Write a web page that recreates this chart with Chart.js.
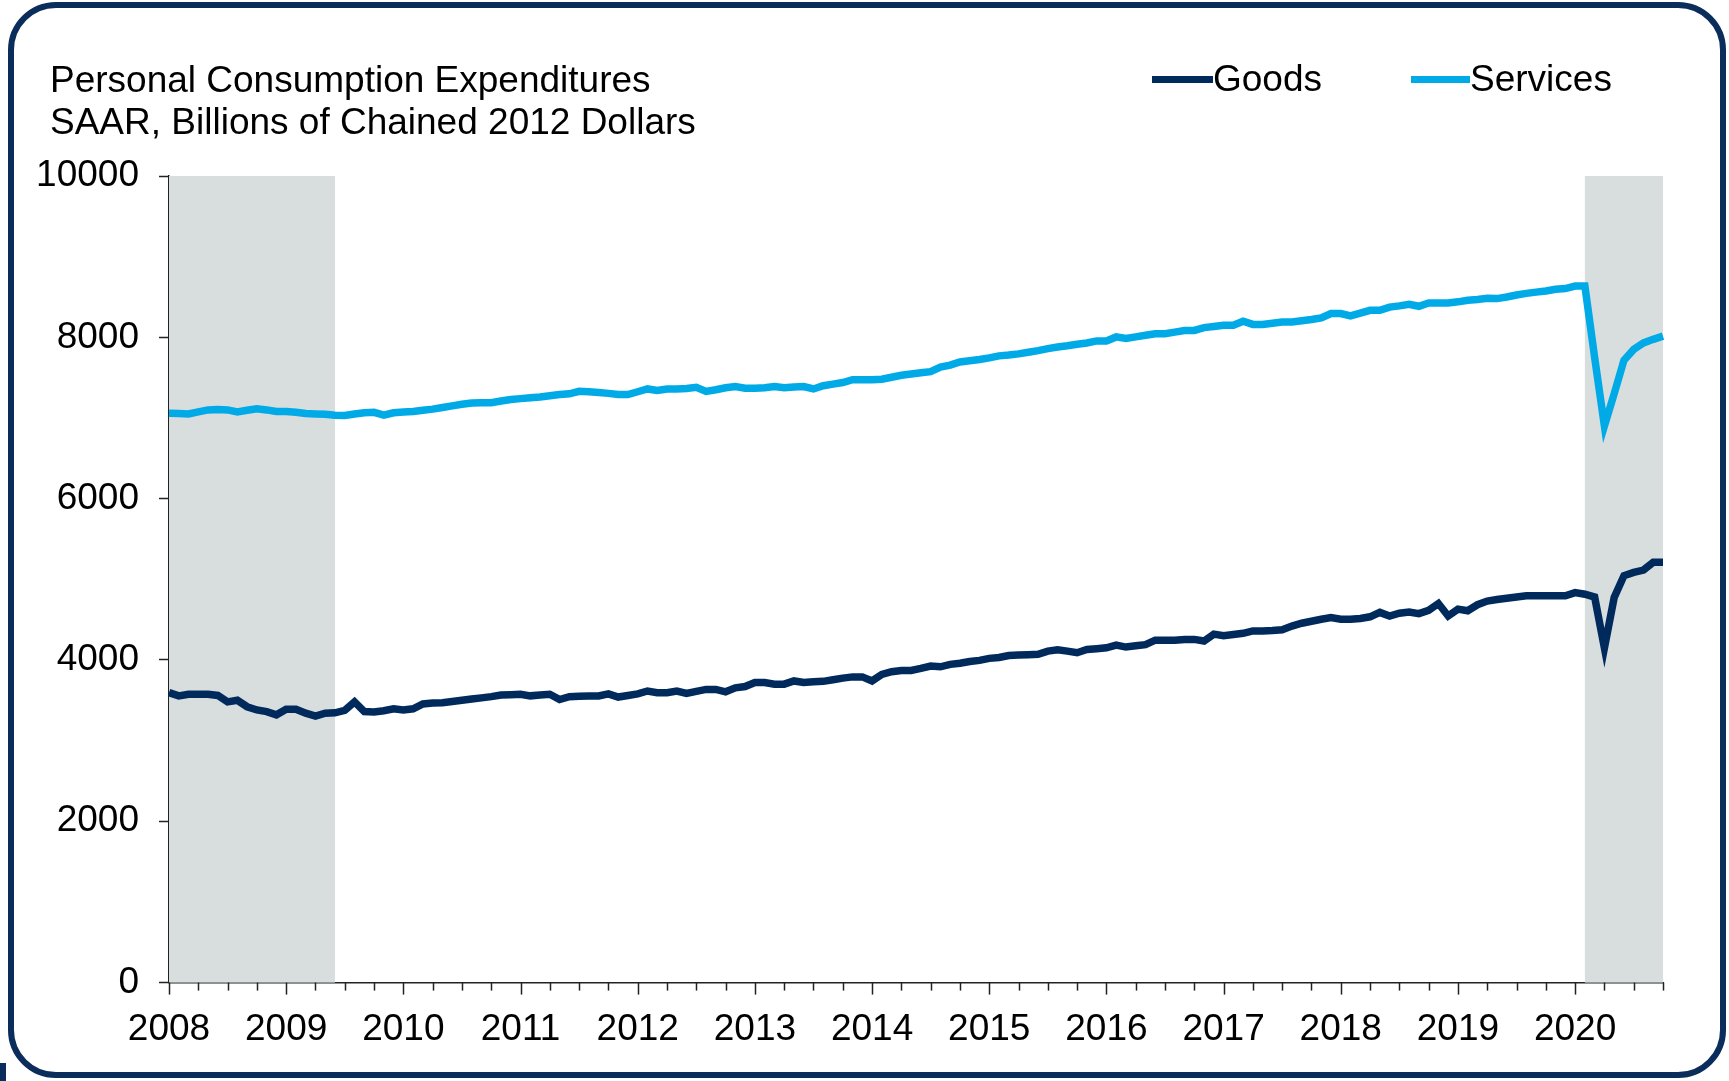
<!DOCTYPE html>
<html>
<head>
<meta charset="utf-8">
<title>Personal Consumption Expenditures</title>
<script src="https://cdn.jsdelivr.net/npm/chart.js@4.4.0/dist/chart.umd.min.js"></script>
<style>
  html, body { margin: 0; padding: 0; background: #fff; }
  body { width: 1729px; height: 1081px; position: relative; overflow: hidden; font-family: "Liberation Sans", Arial, sans-serif; color: #000; }
  #frame { position: absolute; left: 8px; top: 2px; width: 1706px; height: 1064px; border: 6px solid #0b2d5c; border-radius: 48px; }
  #corner { position: absolute; left: 0; top: 1063px; width: 6px; height: 18px; background: #0b2d5c; }
  #chart { position: absolute; left: 0; top: 0; }
  .title { position: absolute; left: 50px; top: 59px; font-size: 37px; line-height: 42px; white-space: nowrap; }
  .key-line { position: absolute; height: 7px; }
  .key-text { position: absolute; font-size: 37px; line-height: 42px; white-space: nowrap; }
</style>
</head>
<body>
<div id="frame"></div>
<div id="corner"></div>
<canvas id="chart" width="1729" height="1081"></canvas>
<div class="title">Personal Consumption Expenditures<br>SAAR, Billions of Chained 2012 Dollars</div>
<div class="key-line" style="left:1152px; top:76px; width:61px; background:#002a5c;"></div>
<div class="key-text" style="left:1213px; top:58px;">Goods</div>
<div class="key-line" style="left:1411px; top:76px; width:59px; background:#00aae7;"></div>
<div class="key-text" style="left:1470px; top:58px;">Services</div>
<script>
// monthly, Jan 2008 - Oct 2020
var months = [];
for (var yr = 2008; yr <= 2020; yr++) {
    for (var mo = 1; mo <= 12; mo++) {
        if (yr === 2020 && mo > 10) break;
        months.push(yr + '-' + (mo < 10 ? '0' + mo : mo));
    }
}

var goods = [
    3595, 3555, 3575, 3575, 3575, 3560, 3480, 3500, 3420, 3380, 3360, 3320,
    3390, 3390, 3340, 3305, 3340, 3345, 3375, 3480, 3360, 3355, 3370, 3395,
    3380, 3395, 3455, 3465, 3470, 3485, 3500, 3515, 3530, 3545, 3565, 3570,
    3575, 3555, 3565, 3575, 3510, 3545, 3550, 3553, 3553, 3580, 3540, 3560,
    3580, 3615, 3595, 3595, 3615, 3585, 3610, 3635, 3635, 3605, 3655, 3670,
    3720, 3720, 3700, 3700, 3740, 3720, 3730, 3735, 3755, 3775, 3790, 3790,
    3740, 3820, 3855, 3870, 3870, 3895, 3925, 3915, 3945, 3960, 3980, 3995,
    4020, 4030, 4055, 4060, 4065, 4070, 4110, 4125, 4110, 4090, 4130, 4140,
    4150, 4185, 4160, 4175, 4190, 4245, 4245, 4245, 4255, 4255, 4235, 4320,
    4300, 4315, 4330, 4360, 4360, 4365, 4375, 4420, 4455, 4480, 4505, 4525,
    4505, 4505, 4515, 4535, 4590, 4545, 4580, 4595, 4575, 4615, 4700, 4545,
    4630, 4610, 4685, 4730, 4750, 4765, 4780, 4795, 4795, 4795, 4795, 4795,
    4835, 4815, 4780, 4150, 4775, 5045, 5085, 5115, 5210, 5210
];

var services = [
    7060, 7055, 7050, 7075, 7100, 7105, 7100, 7075, 7095, 7115, 7100, 7080,
    7080, 7070, 7055, 7050, 7045, 7035, 7030, 7050, 7065, 7070, 7035, 7065,
    7075, 7080, 7095, 7110, 7130, 7150, 7170, 7185, 7190, 7190, 7210, 7230,
    7240, 7250, 7260, 7275, 7290, 7300, 7330, 7325, 7315, 7305, 7290, 7290,
    7325, 7360, 7340, 7360, 7360, 7365, 7380, 7330, 7350, 7375, 7390, 7370,
    7370, 7375, 7390, 7375, 7385, 7390, 7360, 7400, 7420, 7440, 7475, 7475,
    7475, 7480, 7505, 7530, 7545, 7560, 7575, 7630, 7655, 7695, 7710, 7725,
    7745, 7770, 7780, 7795, 7815, 7835, 7860, 7880, 7895, 7915, 7930, 7955,
    7955, 8005, 7985, 8005, 8025, 8045, 8045, 8065, 8085, 8085, 8120, 8135,
    8150, 8150, 8200, 8160, 8160, 8175, 8190, 8190, 8205, 8220, 8240, 8295,
    8295, 8265, 8300, 8335, 8335, 8375, 8390, 8410, 8385, 8425, 8425, 8425,
    8440, 8460, 8470, 8485, 8480, 8500, 8525, 8545, 8560, 8575, 8595, 8605,
    8635, 8635, 7750, 6900, 7300, 7715, 7850, 7930, 7975, 8015
];

// recessions, as month indexes into months
var recessionStart = [0, 145];
var recessionEnd = [17, 153];

var yTicks = [0, 2000, 4000, 6000, 8000, 10000];

var axisColor = '#222222';
var labelFont = { family: '"Liberation Sans", Arial, sans-serif', size: 37 };

var recessionShade = {
    id: 'recessionShade',
    beforeDatasetsDraw: function (chart) {
        var ctx = chart.ctx, x = chart.scales.x, area = chart.chartArea;
        ctx.save();
        ctx.fillStyle = '#d8dede';
        for (var i = 0; i < recessionStart.length; i++) {
            var x0 = x.getPixelForValue(recessionStart[i]);
            var x1 = x.getPixelForValue(recessionEnd[i]);
            ctx.fillRect(x0, area.top, x1 - x0, area.bottom - area.top);
        }
        ctx.restore();
    }
};

// quarterly tick marks, longer ones at each January
var quarterTicks = {
    id: 'quarterTicks',
    afterDraw: function (chart) {
        var ctx = chart.ctx, x = chart.scales.x, y0 = chart.chartArea.bottom;
        ctx.save();
        ctx.strokeStyle = axisColor;
        ctx.lineWidth = 1.5;
        months.forEach(function (m, i) {
            if (i % 3) return;
            var px = Math.round(x.getPixelForValue(i)) + 0.5;
            ctx.beginPath();
            ctx.moveTo(px, y0);
            ctx.lineTo(px, y0 + (i % 12 === 0 ? 12 : 8));
            ctx.stroke();
        });
        ctx.restore();
    }
};

new Chart(document.getElementById('chart'), {
    type: 'line',
    data: {
        labels: months,
        datasets: [{
            label: 'Goods',
            data: goods,
            borderColor: '#002a5c',
            borderWidth: 7.5,
            pointRadius: 0,
            tension: 0
        }, {
            label: 'Services',
            data: services,
            borderColor: '#00aae7',
            borderWidth: 7.5,
            pointRadius: 0,
            tension: 0
        }]
    },
    options: {
        responsive: false,
        animation: false,
        layout: { padding: { left: 33, right: 66, top: 176, bottom: 4 } },
        plugins: {
            legend: { display: false },
            title: { display: false },
            tooltip: { enabled: false }
        },
        scales: {
            x: {
                grid: { display: false, drawTicks: false },
                border: { display: true, color: axisColor, width: 1.5 },
                ticks: {
                    autoSkip: false,
                    maxRotation: 0,
                    padding: 25,
                    color: '#000',
                    font: labelFont,
                    callback: function (v, i) {
                        return months[i].slice(5) === '01' ? months[i].slice(0, 4) : '';
                    }
                }
            },
            y: {
                min: 0,
                max: 10000,
                afterBuildTicks: function (scale) {
                    scale.ticks = yTicks.map(function (v) { return { value: v }; });
                },
                afterFit: function (scale) { scale.width = 136; },
                grid: { drawOnChartArea: false, tickLength: 10, color: axisColor, tickWidth: 1.5 },
                border: { color: axisColor, width: 1.5 },
                ticks: {
                    padding: 20,
                    color: '#000',
                    font: labelFont,
                    callback: function (v) { return String(v); }
                }
            }
        }
    },
    plugins: [recessionShade, quarterTicks]
});
</script>
</body>
</html>
